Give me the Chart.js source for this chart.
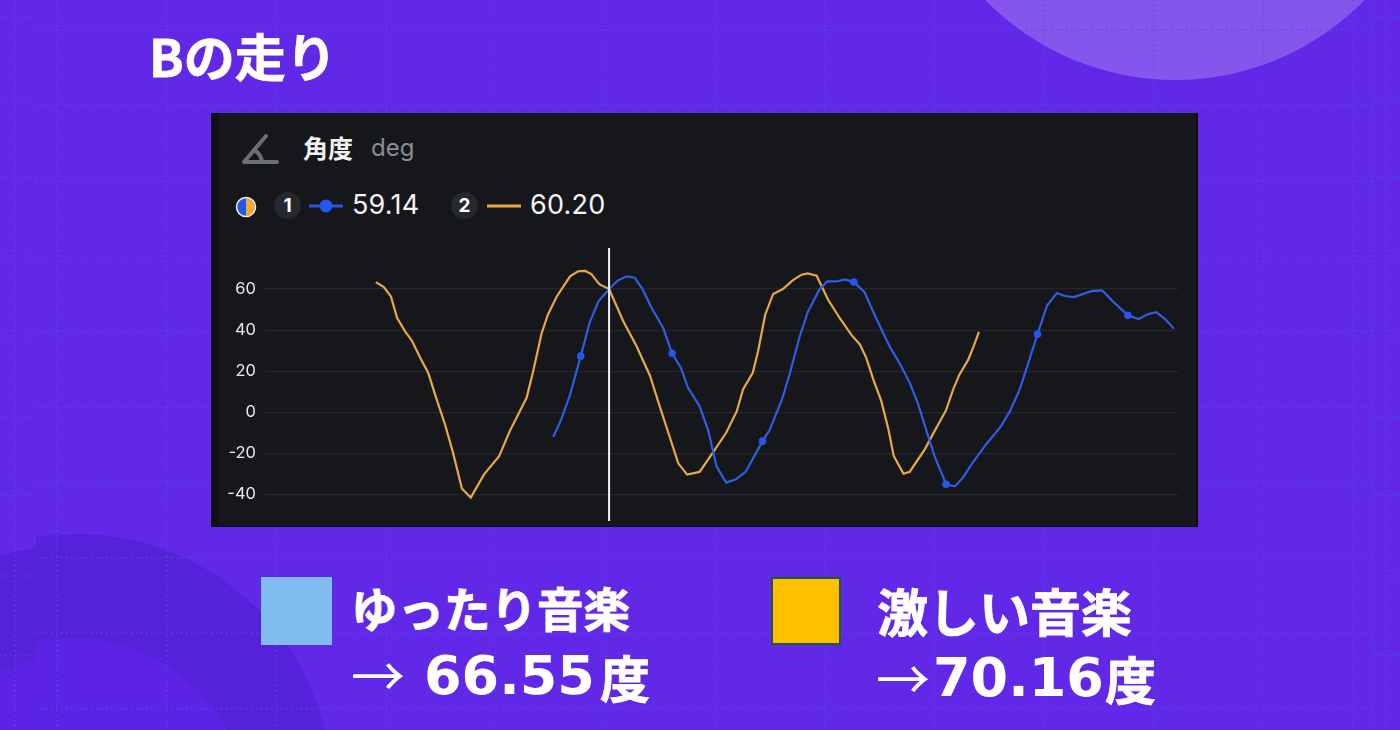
<!DOCTYPE html>
<html lang="ja">
<head>
<meta charset="utf-8">
<script src="https://cdn.jsdelivr.net/npm/chart.js@4"></script>
<style>
  html, body { margin: 0; padding: 0; }
  body { width: 1400px; height: 730px; overflow: hidden; position: relative; background: #6128e8;
         font-family: "Noto Sans CJK JP", sans-serif; color: #fff; }
  #decor { position: absolute; left: 0; top: 0; }
  .abs { position: absolute; white-space: nowrap; }
  #panel { position: absolute; left: 211px; top: 113px; width: 987px; height: 414px; background: #16171b; overflow: hidden;
           box-shadow: inset -2px -1px 0 #0d0e10; }
  #strip { position: absolute; left: 0; top: 0; width: 8px; height: 414px; background: #0f1012; }
  #chart-box { position: absolute; left: 0; top: 127px; width: 987px; height: 289px; }
  .badge { position: absolute; width: 27px; height: 27px; border-radius: 50%; background: #25282c; text-align: center;
           font: bold 19px/27px Inter, sans-serif; top: 79px; }
  .val { position: absolute; top: 74px; font: 27px/36px Inter, sans-serif; color: #f4f4f4; letter-spacing: 0.2px; }
  .big { font-weight: 700; font-size: 46.5px; line-height: 60px; -webkit-text-stroke: 0.8px #fff; }
  .num { font-family: "DejaVu Sans", sans-serif; font-weight: 700; font-size: 54px; line-height: 60px; }
  .arrow { font-weight: 400; font-size: 54px; line-height: 60px; }
</style>
</head>
<body>
<svg id="decor" width="1400" height="730"></svg>

<div class="abs" style="left:149px;top:22px;font-weight:700;font-size:51px;line-height:66px;-webkit-text-stroke:0.8px #fff">Bの走り</div>

<div id="panel">
  <div id="strip"></div>
  <svg class="abs" style="left:30px;top:19px" width="40" height="34">
    <path d="M3 30 L25 4 M3 30 H36 M13 18 Q20 22 21 30" fill="none" stroke="#6b6e72" stroke-width="4" stroke-linecap="round"/>
  </svg>
  <div class="abs" style="left:92px;top:16px;font-weight:700;font-size:25px;line-height:36px;color:#f2f2f2">角度</div>
  <div class="abs" style="left:160px;top:17px;font:24px/36px Inter,sans-serif;color:#8a8d91">deg</div>
  <svg class="abs" style="left:24px;top:83px" width="22" height="22">
    <circle cx="11" cy="11" r="9" fill="#f4a92f"/>
    <path d="M11 2 A9 9 0 0 0 11 20 Z" fill="#2457ee"/>
    <circle cx="11" cy="11" r="9.5" fill="none" stroke="#f2f2f2" stroke-width="1.5"/>
  </svg>
  <div class="badge" style="left:63px">1</div>
  <svg class="abs" style="left:98px;top:84px" width="36" height="18">
    <path d="M0 9 H34" stroke="#2457ee" stroke-width="3"/><circle cx="17" cy="9" r="6.5" fill="#2457ee"/>
  </svg>
  <div class="val" style="left:141px">59.14</div>
  <div class="badge" style="left:240px">2</div>
  <svg class="abs" style="left:276px;top:84px" width="36" height="18">
    <path d="M0 9 H34" stroke="#f0a838" stroke-width="3"/>
  </svg>
  <div class="val" style="left:319px">60.20</div>
  <div id="chart-box"><canvas id="angle-chart"></canvas></div>
</div>

<div class="abs" style="left:261px;top:577px;width:71px;height:68px;background:#80bcf0"></div>
<div class="abs big" style="left:351px;top:577px">ゆったり音楽</div>
<div class="abs arrow" style="left:351px;top:644px">→</div>
<div class="abs num" style="left:424px;top:646px">66.55</div>
<div class="abs big" style="left:600px;top:646px;font-size:50px">度</div>
<div class="abs" style="left:771px;top:577px;width:66px;height:64px;background:#ffc000;border:2px solid #1f5a3a"></div>
<div class="abs big" style="left:877px;top:580px;font-size:51px">激しい音楽</div>
<div class="abs arrow" style="left:876px;top:647px">→</div>
<div class="abs num" style="left:933px;top:648px">70.16</div>
<div class="abs big" style="left:1105px;top:648px;font-size:51px">度</div>

<script>
// sample index along the recording
const slowTime = [20.0,20.9,21.9,23.1,24.1,25.1,26.3,27.3,28.3,29.2,30.1,31.1,32.4,33.4,34.4,35.2,36.5,37.5,38.4,39.5,40.6,41.7,43.6,44.4,45.8,46.7,47.8,48.7,50.0,50.9,51.9,52.9,53.9,55.1,56.4,57.9,59.2,60.2,61.1,62.1,63.0,64.3,65.3,66.2,67.3,68.8,70.5,71.5,72.6,73.4,74.6,75.7,76.8,77.7,78.7,80.7,81.9,83.1,84.8,86.0,87.1,88.0,89.0,90.0];
const slowAngle = [-12.1,-3.5,8.6,27.3,43.5,54,60,64.2,66.2,65.5,59.7,50.8,41,28.7,21.6,11.9,3,-9.2,-26.2,-34.3,-32.7,-29,-14.1,-8.7,6.2,19.2,37,48.7,59.7,63.7,63.7,64.7,63.4,58.5,45.9,32.4,22.7,14.3,4.6,-9.2,-21.4,-35.1,-36.1,-31.9,-24.6,-15.7,-6.8,0.5,11.1,21.6,38,52.1,58.1,56.6,56.1,59,59.4,54,47.2,45.4,47.8,48.7,45.4,40.6];
const slowMarkers = [23.1,33.4,43.6,53.9,64.3,74.6,84.8];

const fastTime = [0,0.9,1.7,2.4,3.3,4.1,5.0,5.9,6.8,7.8,8.7,9.7,10.7,12.2,13.9,15.1,17.0,17.7,18.7,19.4,20.4,21.9,22.8,23.6,24.3,25.2,26.3,27.9,29.4,30.9,32.0,33.1,34.1,35.1,36.5,38.0,39.5,40.7,41.4,42.5,43.1,43.9,44.8,45.9,47.0,48.0,48.7,49.7,51.0,52.3,53.6,54.6,55.3,56.1,57.0,57.8,58.4,59.5,60.2,61.9,62.8,64.3,65.1,65.8,66.8,67.4,68.0];
const fastAngle = [63.4,61,56.4,45.9,39.4,34.6,26.5,19.2,7,-6,-19.7,-37.2,-41.6,-30.3,-21.4,-9.2,7,19.2,38.6,47.5,56.4,66.2,68.6,68.8,67.3,62.4,60,44.3,32.1,17.9,3,-11.6,-24.9,-30.4,-29.1,-19.7,-10,0.5,11.1,19.2,29.7,47.5,57.6,60,64.2,67,67.6,66.5,54.8,45.9,37.8,32.9,26.5,15.9,5.4,-8.4,-21.4,-30,-29,-18.1,-10.8,1,11.1,18.3,25.6,32.1,39.1];

const yTicks = [-40,-20,0,20,40,60];
const cursorTime = 26.3;

const zip = (xs, ys) => xs.map((x, i) => ({ x, y: ys[i] }));

// backdrop: dotted grid and the soft circles
const decor = document.getElementById('decor');
const NS = 'http://www.w3.org/2000/svg';
const addShape = (tag, attrs) => {
    const el = document.createElementNS(NS, tag);
    Object.entries(attrs).forEach(([k, v]) => el.setAttribute(k, v));
    decor.appendChild(el);
};
const dotted = { stroke: '#3f5ad6', 'stroke-width': 1.6, 'stroke-dasharray': '1.6 3.4', opacity: 0.75 };

addShape('circle', { cx: 1175, cy: -185, r: 265, fill: '#8456ec' });
decor.innerHTML += '<defs><clipPath id="main"><rect x="36" y="0" width="1337" height="730"/></clipPath>'
    + '<clipPath id="side"><rect x="0" y="0" width="36" height="730"/></clipPath></defs>';
addShape('circle', { cx: 77, cy: 789, r: 255, fill: '#5622d9', 'clip-path': 'url(#main)' });
addShape('circle', { cx: 73, cy: 813, r: 175, fill: '#5b23e4', 'clip-path': 'url(#main)' });
addShape('circle', { cx: 77, cy: 799, r: 255, fill: '#5622d9', 'clip-path': 'url(#side)' });
addShape('circle', { cx: 73, cy: 831, r: 175, fill: '#5b23e4', 'clip-path': 'url(#side)' });

for (let x = 57; x < 1380; x += 109.7) {
    addShape('line', { x1: x, y1: 0, x2: x, y2: 730, ...dotted });
}
[15, 1353, 1386].forEach((x) => addShape('line', { x1: x, y1: 0, x2: x, y2: 730, ...dotted }));
for (let y = 30; y < 730; y += 75.4) {
    addShape('line', { x1: 36, y1: y, x2: 1373, y2: y, ...dotted });
}
[17, 98, 177, 256, 336, 417, 495, 576, 655].forEach((y) => {
    addShape('line', { x1: 0, y1: y, x2: 36, y2: y, ...dotted });
    addShape('line', { x1: 1373, y1: y, x2: 1400, y2: y, ...dotted });
});

new Chart(document.getElementById('angle-chart'), {
    type: 'line',
    data: {
        datasets: [
            {
                label: 'cursor',
                data: [{ x: cursorTime, y: -53 }, { x: cursorTime, y: 80 }],
                borderColor: '#f4f4f4',
                borderWidth: 2,
                pointRadius: 0,
            },
            {
                label: '1',
                data: zip(slowTime, slowAngle),
                borderColor: '#2f5fe0',
                backgroundColor: '#2457ee',
                borderWidth: 2.2,
                pointBorderWidth: 0,
                pointRadius: (ctx) => (slowMarkers.includes(slowTime[ctx.dataIndex]) ? 3.8 : 0),
            },
            {
                label: '2',
                data: zip(fastTime, fastAngle),
                borderColor: '#e8a845',
                borderWidth: 2.2,
                pointRadius: 0,
            },
        ],
    },
    options: {
        responsive: true,
        maintainAspectRatio: false,
        animation: false,
        layout: { padding: { left: 0, right: 20, top: 8, bottom: 8 } },
        plugins: { legend: { display: false }, tooltip: { enabled: false } },
        scales: {
            x: { type: 'linear', min: -12.5, max: 90.45, display: false },
            y: {
                min: -53,
                max: 80,
                afterBuildTicks: (axis) => { axis.ticks = yTicks.map((value) => ({ value })); },
                afterFit: (axis) => {
                    axis.width = 54;
                    axis.paddingTop = 0;
                    axis.paddingBottom = 0;
                },
                border: { display: false },
                grid: { color: '#25272b', lineWidth: 1.2, drawTicks: false },
                ticks: { color: '#e8e8e8', font: { family: 'Inter, sans-serif', size: 16.5 }, padding: 9 },
            },
        },
    },
});
</script>
</body>
</html>
